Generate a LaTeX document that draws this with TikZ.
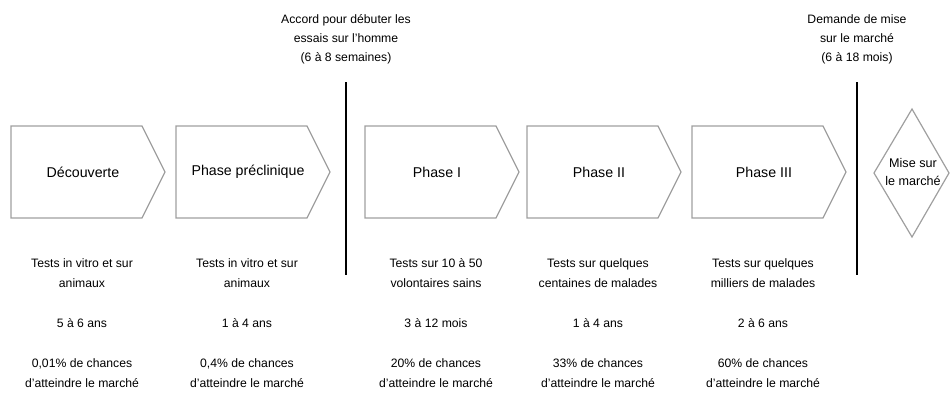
\documentclass[tikz,border=0pt]{standalone}
\usepackage{fontspec}
\setmainfont{Liberation Sans}
\usetikzlibrary{positioning}

\begin{document}
\begin{tikzpicture}[x=0.5pt, y=-0.5pt,
  phasebox/.style={draw=gray!75, line width=0.6pt},
  phaselbl/.style={font=\fontsize{7.1}{9}\selectfont, align=center},
  lbl/.style={font=\fontsize{6.1}{10}\selectfont, align=center},
  jalon/.style={draw=black, line width=0.9pt}]
\useasboundingbox (0,0) rectangle (950,397);
% les cinq phases
\foreach \x/\n/\t/\d/\u/\c in {
  11/1/{Découverte}/{Tests in vitro et sur\\animaux}/{5 à 6 ans}/{0,01\%},
  176/2/{Phase préclinique}/{Tests in vitro et sur\\animaux}/{1 à 4 ans}/{0,4\%},
  365/3/{Phase I}/{Tests sur 10 à 50\\volontaires sains}/{3 à 12 mois}/{20\%},
  527/4/{Phase II}/{Tests sur quelques\\centaines de malades}/{1 à 4 ans}/{33\%},
  692/5/{Phase III}/{Tests sur quelques\\milliers de malades}/{2 à 6 ans}/{60\%}} {
  \draw[phasebox] (\x,126) -- ++(131,0) -- ++(23,46) -- ++(-23,46) -- ++(-131,0) -- cycle;
  \node[phaselbl] (ph\n) at (\x+72,172) {\t};
  \node[lbl] (desc\n) at (\x+71,273) {\d};
  \node[lbl] (dur\n) at (\x+71,323) {\u};
  \node[lbl] (ch\n) at (\x+71,373) {\c\ de chances\\d'atteindre le marché};
}
% mise sur le marche
\draw[phasebox] (912,109) -- (949,173) -- (912,237) -- (874,173) -- cycle;
\node[font=\fontsize{6.3}{9}\selectfont, align=center] (mkt) at (913,172) {Mise sur\\le marché};
% jalons
\node[lbl, font=\fontsize{6.1}{9.5}\selectfont] (accord) at (346,39) {Accord pour débuter les\\essais sur l'homme\\(6 à 8 semaines)};
\node[lbl, font=\fontsize{6.1}{9.5}\selectfont] (demande) at (857,39) {Demande de mise\\sur le marché\\(6 à 18 mois)};
\coordinate (j1a) at (346,82);
\coordinate (j1b) at (346,275);
\coordinate (j2a) at (857,82);
\coordinate (j2b) at (857,275);
\draw[jalon] (j1a) -- (j1b);
\draw[jalon] (j2a) -- (j2b);
\end{tikzpicture}
\end{document}
